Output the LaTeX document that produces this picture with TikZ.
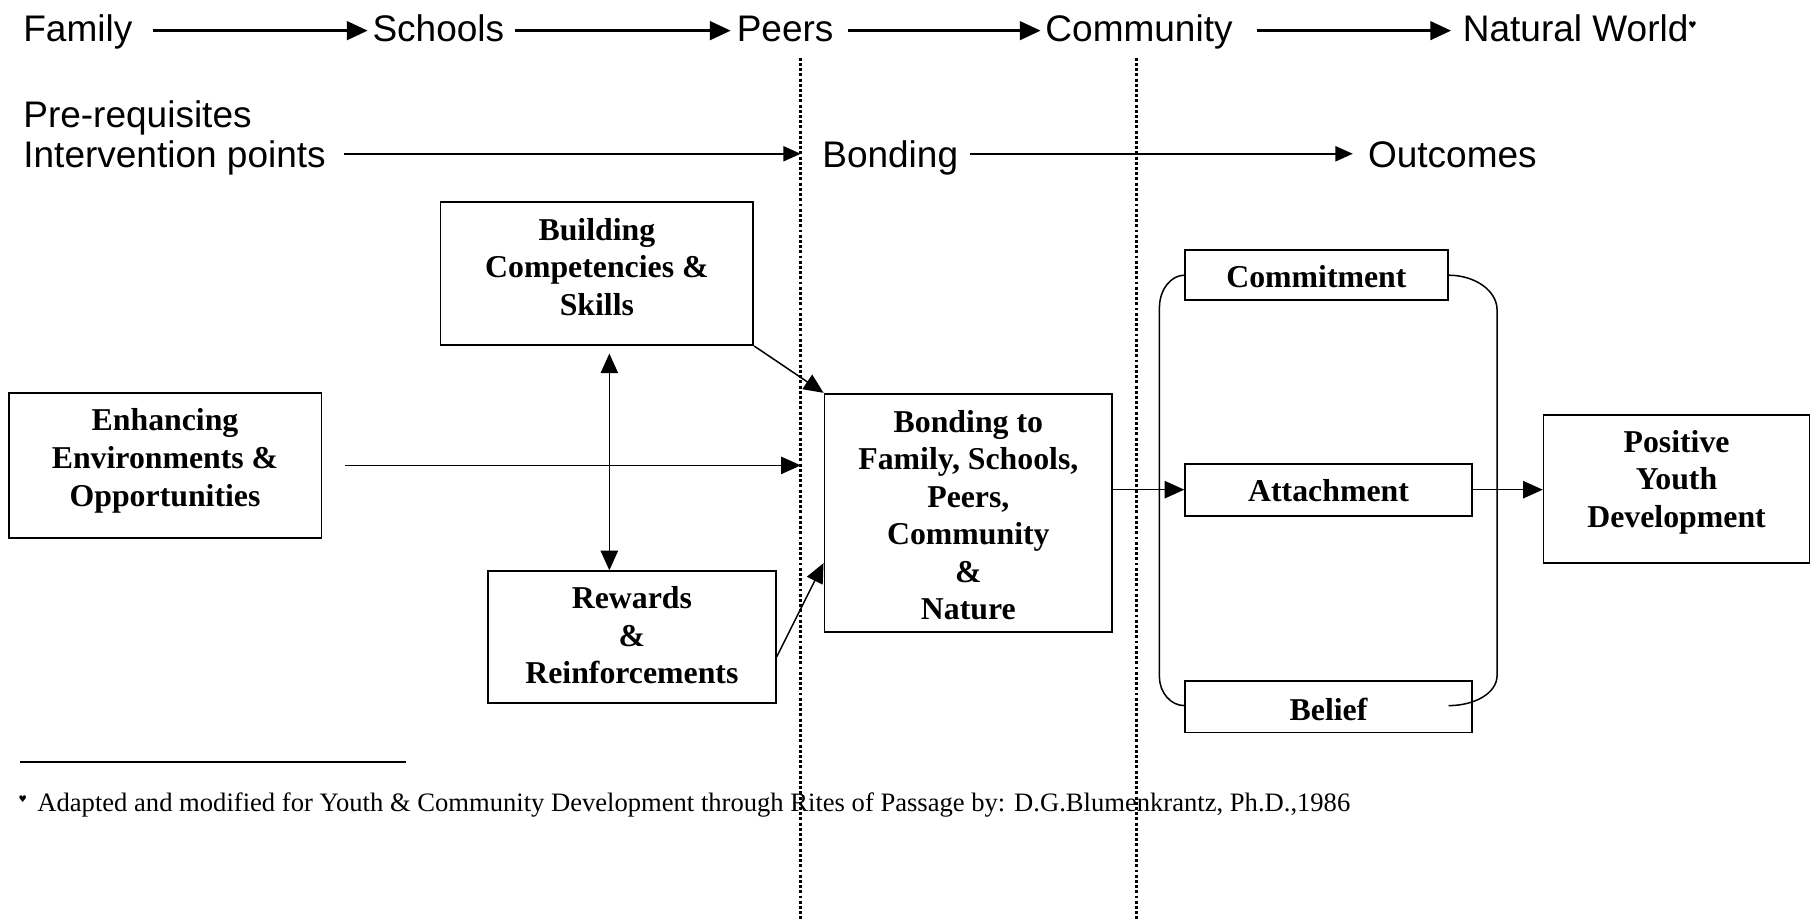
\documentclass[tikz,border=0pt]{standalone}
\usepackage{fontspec}
\setmainfont{Liberation Serif}
\newfontfamily\arial{Liberation Sans}
\newfontfamily\dejavu{DejaVu Sans}
\usetikzlibrary{arrows.meta,calc}
\begin{document}
\begin{tikzpicture}[x=1pt,y=-1pt,
  toptext/.style={font=\arial\fontsize{32}{37}\selectfont, inner sep=0pt, anchor=base west},
  bigarrow/.style={line width=2.6pt, -{Triangle[length=18pt,width=16pt]}},
  midarrow/.style={line width=1.6pt, -{Triangle[length=15pt,width=13pt]}},
  conn/.style={line width=1.3pt, -{Triangle[length=17pt,width=15pt]}},
  dblconn/.style={line width=1.3pt, {Triangle[length=17pt,width=15pt]}-{Triangle[length=17pt,width=15pt]}},
  box/.style={draw, line width=1.5pt, fill=white, inner sep=0pt},
  boxtext/.style={font=\bfseries\fontsize{27.5}{32.5}\selectfont, align=center, inner sep=0pt, anchor=north},
  dotline/.style={line width=2.3pt, dash pattern=on 2.5pt off 2pt},
  bracket/.style={line width=1.3pt}
]
\useasboundingbox (0,0) rectangle (1568,795);

% dotted dividers
\coordinate (d1t) at (692.5,50);
\coordinate (d1b) at (692.5,795);
\coordinate (d2t) at (983,50);
\coordinate (d2b) at (983,795);
\draw[dotline] (d1t) -- (d1b);
\draw[dotline] (d2t) -- (d2b);

% top row
\node[toptext] (fam) at (20,36) {Family};
\node[toptext] (sch) at (322,36) {Schools};
\node[toptext] (peer) at (637,36) {Peers};
\node[toptext] (comm) at (904,36) {Community};
\node[toptext] (nat) at (1265,36) {Natural World\raisebox{11pt}{\dejavu\fontsize{8}{8}\selectfont ♥}};
\coordinate (r1) at (0,26.5);
\draw[bigarrow] ($(fam.east |- r1)+(18,0)$) -- ($(sch.west |- r1)+(-4,0)$);
\draw[bigarrow] ($(sch.east |- r1)+(9,0)$) -- ($(peer.west |- r1)+(-5,0)$);
\draw[bigarrow] ($(peer.east |- r1)+(12,0)$) -- ($(comm.west |- r1)+(-4,0)$);
\draw[bigarrow] ($(comm.east |- r1)+(21,0)$) -- ($(nat.west |- r1)+(-10,0)$);

% second row
\node[toptext] (pre) at (20,110) {Pre-requisites};
\node[toptext] (int) at (20,145) {Intervention points};
\node[toptext] (bnd) at (711,145) {Bonding};
\node[toptext] (out) at (1183,145) {Outcomes};
\coordinate (r2) at (0,133);
\draw[midarrow] ($(int.east |- r2)+(16,0)$) -- (d1t |- r2);
\draw[midarrow] ($(bnd.east |- r2)+(10,0)$) -- ($(out.west |- r2)+(-13,0)$);

% boxes
\node[box, minimum width=270.5pt, minimum height=123.5pt] (bld) at (516.25,236.75) {};
\node[box, minimum width=270.5pt, minimum height=125pt] (enh) at (142.75,402.5) {};
\node[box, minimum width=249pt, minimum height=206pt] (bond) at (837.5,443.5) {};
\node[box, minimum width=249pt, minimum height=114pt] (rew) at (546.5,551) {};
\node[box, minimum width=227pt, minimum height=43pt] (com) at (1138.5,238) {};
\node[box, minimum width=248pt, minimum height=45pt] (att) at (1149,423.5) {};
\node[box, minimum width=248pt, minimum height=44.5pt] (bel) at (1149,611.25) {};
\node[box, minimum width=230pt, minimum height=128pt] (pos) at (1450,423) {};

% box texts
\node[boxtext] (bldt) at ($(bld.north)+(0,10.5)$) {\strut Building\\\strut Competencies \&\\\strut Skills};
\node[boxtext] (enht) at ($(enh.north)+(0,10.5)$) {\strut Enhancing\\\strut Environments \&\\\strut Opportunities};
\node[boxtext] (bondt) at ($(bond.north)+(0,11)$) {\strut Bonding to\\\strut Family, Schools,\\\strut Peers,\\\strut Community\\\strut \&\\\strut Nature};
\node[boxtext] (rewt) at ($(rew.north)+(0,10)$) {\strut Rewards\\\strut \&\\\strut Reinforcements};
\node[boxtext] (comt) at ($(com.north)+(0,10.25)$) {\strut Commitment};
\node[boxtext] (attt) at ($(att.north)+(0,10.75)$) {\strut Attachment};
\node[boxtext] (belt) at ($(bel.north)+(0,11.5)$) {\strut Belief};
\node[boxtext] (post) at ($(pos.north)+(0,10)$) {\strut Positive\\\strut Youth\\\strut Development};

% connectors
\draw[conn] (bld.south east) -- (bond.north west);
\draw[conn] ($(enh.east)+(20,0)$) -- (enh.east -| d1t);
\draw[dblconn] ($(bld.south)+(10.75,6.5)$) -- ($(bld.south |- rew.north)+(10.75,0)$);
\draw[conn] ($(rew.east)+(0,17)$) -- ($(bond.west)+(0,43.5)$);
\draw[conn] (bond.east |- att.west) -- (att.west);
\draw[conn] (att.east) -- (pos.west |- att.east);

% brackets
\draw[bracket] (com.west) .. controls +(-11.5,0) and +(0,-15.5) .. ($(com.west)+(-21.5,28)$)
  -- ($(bel.west)+(-21.5,-26)$) .. controls +(0,14) and +(-11.5,0) .. ($(bel.west)+(0,-1)$);
\draw[bracket] (com.east) .. controls +(23,0) and +(0,-16.5) .. ($(com.east)+(42,30)$)
  -- ($(com.east |- bel.west)+(42,-27)$) .. controls +(0,15) and +(23,0) .. ($(com.east |- bel.west)+(0,-1)$);

% footnote
\coordinate (fr1) at (17,659);
\coordinate (fr2) at (351,659);
\draw[line width=1.7pt] (fr1) -- (fr2);
\node[anchor=base west, inner sep=0pt, font=\fontsize{23}{27}\selectfont] (fn) at (16,702)
  {\raisebox{8pt}{\dejavu\fontsize{8}{8}\selectfont ♥}\hspace{9pt}Adapted and modified for Youth \& Community Development through Rites of Passage by: D.G.Blumenkrantz, Ph.D.,1986};
\end{tikzpicture}
\end{document}
